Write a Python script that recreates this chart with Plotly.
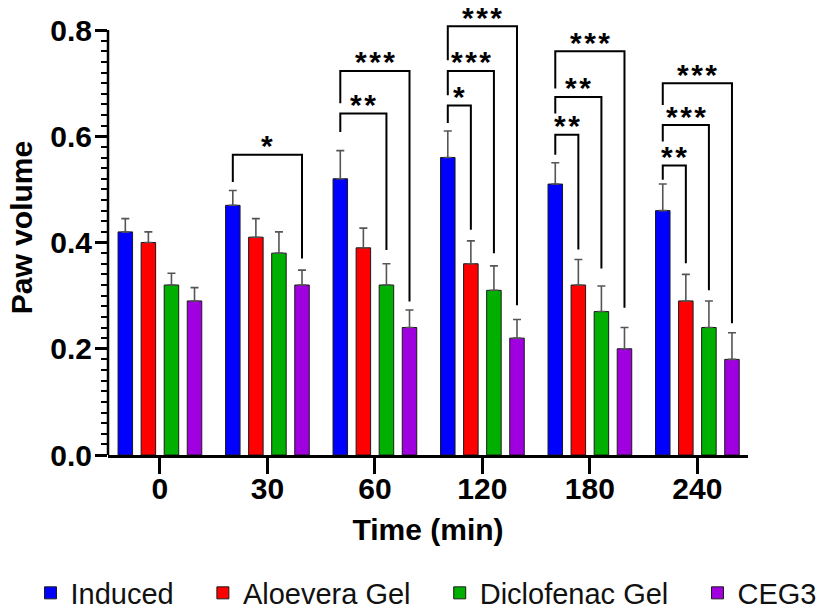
import plotly.graph_objects as go

# ---------------- data ----------------
time_labels = ["0", "30", "60", "120", "180", "240"]
series_names = ["Induced", "Aloevera Gel", "Diclofenac Gel", "CEG3"]

induced = [0.42, 0.47, 0.52, 0.56, 0.51, 0.46]
induced_err = [0.025, 0.028, 0.053, 0.050, 0.040, 0.050]
aloevera = [0.40, 0.41, 0.39, 0.36, 0.32, 0.29]
aloevera_err = [0.020, 0.035, 0.037, 0.043, 0.048, 0.050]
diclofenac = [0.32, 0.38, 0.32, 0.31, 0.27, 0.24]
diclofenac_err = [0.022, 0.040, 0.040, 0.046, 0.048, 0.050]
ceg3 = [0.29, 0.32, 0.24, 0.22, 0.20, 0.18]
ceg3_err = [0.025, 0.028, 0.033, 0.035, 0.040, 0.050]

y_ticks = [0.0, 0.2, 0.4, 0.6, 0.8]
y_ticktext = ["0.0", "0.2", "0.4", "0.6", "0.8"]

# significance brackets (Induced vs target series, in each time group)
bracket_group = [1, 2, 2, 3, 3, 3, 4, 4, 4, 5, 5, 5]
bracket_target = [3, 2, 3, 1, 2, 3, 1, 2, 3, 1, 2, 3]
bracket_level = [0.565, 0.643, 0.723, 0.658, 0.723, 0.807, 0.603, 0.674, 0.760, 0.545, 0.621, 0.700]
bracket_left_bottom = [0.514, 0.608, 0.662, 0.625, 0.677, 0.743, 0.565, 0.643, 0.690, 0.518, 0.590, 0.659]
bracket_right_bottom = [0.370, 0.386, 0.289, 0.424, 0.380, 0.282, 0.387, 0.351, 0.277, 0.361, 0.310, 0.248]
bracket_label = ["*", "**", "***", "*", "***", "***", "**", "**", "***", "**", "***", "***"]

# ---------------- style ----------------
colors = ["#0000FF", "#FF0000", "#00B000", "#A000E0"]
values = [induced, aloevera, diclofenac, ceg3]
errors = [induced_err, aloevera_err, diclofenac_err, ceg3_err]

slot = 0.2146      # distance between bar centres inside a group (category units)
bar_w = 0.135      # bar width (category units)
group_x = list(range(len(time_labels)))

PLOT_L, PLOT_W, PLOT_T, PLOT_H = 108, 640, 0, 455
FIG_W, FIG_H = 827, 610
gs_w = FIG_W - PLOT_L          # right margin 0, x-axis domain limited instead


def bar_center(series_idx):
    return (series_idx - 1.5) * slot


fig = go.Figure()
for i, name in enumerate(series_names):
    pad = "\u00a0\u00a0\u00a0" if i < len(series_names) - 1 else ""
    fig.add_trace(go.Bar(
        x=group_x,
        y=values[i],
        name=name + pad,
        width=bar_w,
        offset=bar_center(i) - bar_w / 2,
        marker=dict(color=colors[i], line=dict(color="#1a1a1a", width=1)),
        error_y=dict(type="data", symmetric=False, array=errors[i],
                     arrayminus=[0] * len(errors[i]),
                     color="#555555", thickness=1.6, width=4),
    ))

shapes = []
annotations = []
for g, t, lvl, lb, rb, lab in zip(bracket_group, bracket_target, bracket_level,
                                   bracket_left_bottom, bracket_right_bottom, bracket_label):
    xl = g + bar_center(0)
    xr = g + bar_center(t)
    shapes.append(dict(
        type="path", xref="x", yref="y",
        path=f"M {xl},{lb} L {xl},{lvl} L {xr},{lvl} L {xr},{rb}",
        line=dict(color="black", width=2),
    ))
    annotations.append(dict(
        x=(xl + xr) / 2, y=lvl, xref="x", yref="y",
        text="\u200a".join(lab), showarrow=False,
        yanchor="middle", yshift=9,
        font=dict(family="Liberation Sans", size=30, color="black", weight="bold"),
    ))

# y axis line only up to 0.8
shapes.append(dict(type="line", xref="paper", yref="y", x0=0, x1=0, y0=0, y1=0.8,
                   line=dict(color="black", width=2.5)))

minor_vals = [round(k * 0.02, 2) for k in range(41) if k % 10 != 0]

tick_font = dict(family="Liberation Sans", size=30, color="black", weight="bold")

fig.update_layout(
    width=FIG_W, height=FIG_H,
    margin=dict(l=PLOT_L, r=0, t=PLOT_T, b=FIG_H - PLOT_H, autoexpand=False),
    paper_bgcolor="white", plot_bgcolor="white",
    barmode="overlay",
    showlegend=True,
    legend=dict(orientation="h", xref="paper", yref="paper",
                x=(30.5 - PLOT_L) / gs_w, xanchor="left",
                y=-(593 - PLOT_H) / PLOT_H, yanchor="middle",
                font=dict(family="Liberation Sans", size=29, color="#111111"),
                bgcolor="rgba(0,0,0,0)"),
    shapes=shapes,
    annotations=annotations,
    xaxis=dict(
        domain=[0, PLOT_W / gs_w],
        range=[-0.483, 5.471], automargin=False,
        tickmode="array", tickvals=group_x, ticktext=time_labels,
        showline=True, linecolor="black", linewidth=2.5,
        ticks="outside", ticklen=16, tickwidth=2.5, tickcolor="black",
        ticklabelstandoff=-11,
        showgrid=False, zeroline=False,
        tickfont=tick_font,
        title=dict(text="Time (min)", font=tick_font, standoff=16),
    ),
    yaxis=dict(
        range=[0, 0.8565], automargin=False,
        tickmode="array", tickvals=y_ticks, ticktext=y_ticktext,
        showline=False,
        ticks="outside", ticklen=12, tickwidth=2.5, tickcolor="black",
        ticklabelstandoff=-3,
        minor=dict(tickmode="array", tickvals=minor_vals, ticks="outside",
                   ticklen=6, tickwidth=2, tickcolor="black"),
        showgrid=False, zeroline=False,
        tickfont=tick_font,
        title=dict(text="Paw volume", font=tick_font, standoff=8),
    ),
)

fig.write_html("out.html", config={"displayModeBar": False},
               post_script="document.body.style.margin='0';")
